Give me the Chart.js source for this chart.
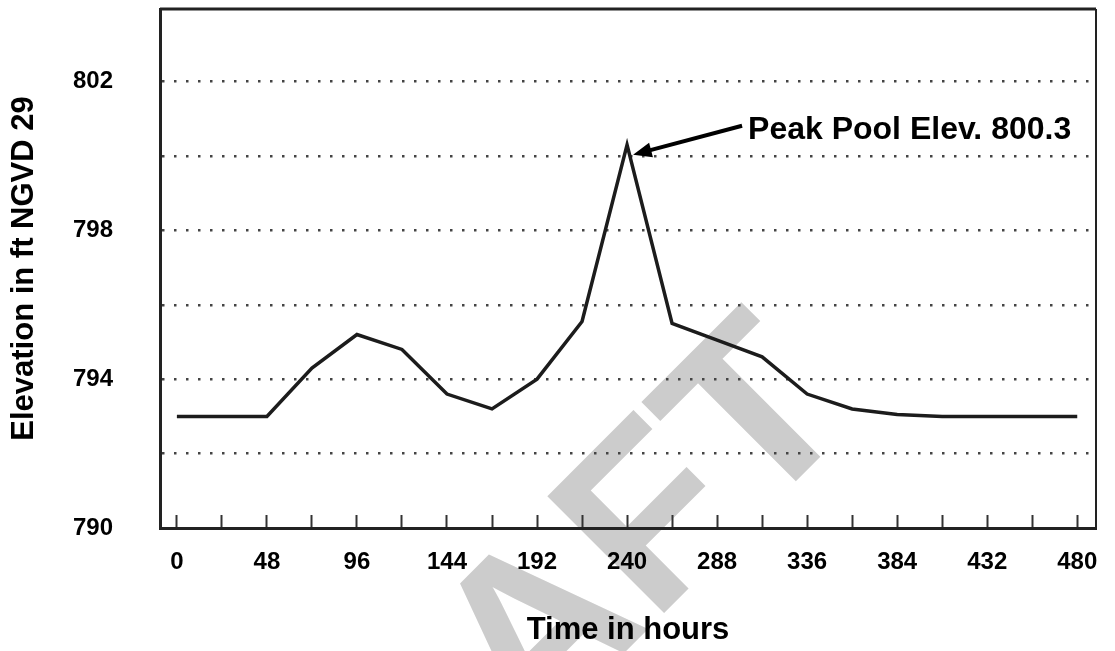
<!DOCTYPE html>
<html>
<head>
<meta charset="utf-8">
<title>Peak Pool Elevation</title>
<script src="https://cdn.jsdelivr.net/npm/chart.js@4.4.1/dist/chart.umd.min.js"></script>
<style>
  html, body { margin: 0; padding: 0; background: #fff; }
  #wrap { width: 1115px; height: 651px; position: relative; }
</style>
</head>
<body>
<div id="wrap"><canvas id="poolChart"></canvas></div>
<script>
// pool hydrograph, values
const hours = [0, 24, 48, 72, 96, 120, 144, 168, 192, 216, 240, 264, 288, 312, 336, 360, 384, 408, 432, 456, 480];
const elevation = [793.0, 793.0, 793.0, 794.3, 795.2, 794.8, 793.6, 793.2, 794.0, 795.55, 800.3, 795.5, 795.05, 794.6, 793.6, 793.2, 793.05, 793.0, 793.0, 793.0, 793.0];

// axis ticks
const xTickHours = [0, 24, 48, 72, 96, 120, 144, 168, 192, 216, 240, 264, 288, 312, 336, 360, 384, 408, 432, 456, 480];
const xLabelHours = [0, 48, 96, 144, 192, 240, 288, 336, 384, 432, 480];
const yGridValues = [790, 792, 794, 796, 798, 800, 802];
const yLabelValues = [790, 794, 798, 802];

const peakHour = 240;
const peakElev = 800.3;
const peakText = 'Peak Pool Elev. 800.3';

const FONT = '"Liberation Sans", Arial, Helvetica, sans-serif';

document.addEventListener('DOMContentLoaded', function () {
    const ctx = document.getElementById('poolChart').getContext('2d');

    // grey DRAFT stamp behind everything
    const watermark = {
        id: 'watermark',
        beforeDraw(chart) {
            const c = chart.ctx;
            c.save();
            c.translate(285, 992);
            c.rotate(-Math.PI / 4);
            c.font = 'bold 240px ' + FONT;
            c.fillStyle = '#cccccc';
            c.textBaseline = 'alphabetic';
            c.fillText('DRAFT', 0, 0);
            c.restore();
        }
    };

    // top and right edges of the plot box
    const frame = {
        id: 'frame',
        afterDraw(chart) {
            const c = chart.ctx;
            const a = chart.chartArea;
            c.save();
            c.strokeStyle = '#222';
            c.lineWidth = 3;
            c.beginPath();
            c.moveTo(a.left, a.top);
            c.lineTo(a.right, a.top);
            c.stroke();
            c.lineWidth = 2;
            c.beginPath();
            c.moveTo(a.right, a.top);
            c.lineTo(a.right, a.bottom);
            c.stroke();
            c.restore();
        }
    };

    // arrow + label pointing at the peak
    const peakNote = {
        id: 'peakNote',
        afterDatasetsDraw(chart) {
            const c = chart.ctx;
            const px = chart.scales.x.getPixelForValue(peakHour);
            const py = chart.scales.y.getPixelForValue(peakElev);
            const tip = { x: px + 6, y: py + 10 };
            const tail = { x: px + 115, y: py - 19 };
            const ang = Math.atan2(tip.y - tail.y, tip.x - tail.x);
            const head = 20;
            c.save();
            c.strokeStyle = '#000';
            c.fillStyle = '#000';
            c.lineWidth = 4;
            c.beginPath();
            c.moveTo(tail.x, tail.y);
            c.lineTo(tip.x - Math.cos(ang) * head * 0.8, tip.y - Math.sin(ang) * head * 0.8);
            c.stroke();
            c.beginPath();
            c.moveTo(tip.x, tip.y);
            c.lineTo(tip.x - head * Math.cos(ang - 0.38), tip.y - head * Math.sin(ang - 0.38));
            c.lineTo(tip.x - head * Math.cos(ang + 0.38), tip.y - head * Math.sin(ang + 0.38));
            c.closePath();
            c.fill();
            c.font = 'bold 32px ' + FONT;
            c.textBaseline = 'middle';
            c.textAlign = 'left';
            c.fillText(peakText, px + 121, py - 15);
            c.restore();
        }
    };

    const data = {
        datasets: [{
            label: 'Pool elevation',
            data: hours.map((h, i) => ({ x: h, y: elevation[i] })),
            borderColor: '#1c1c1c',
            borderWidth: 3.5,
            pointRadius: 0,
            tension: 0,
            fill: false,
        }]
    };

    const config = {
        type: 'line',
        data: data,
        options: {
            responsive: true,
            maintainAspectRatio: false,
            animation: false,
            layout: {
                padding: { top: 9, right: 19, left: 0, bottom: 0 },
            },
            scales: {
                x: {
                    type: 'linear',
                    min: -9,
                    max: 490,
                    afterFit: function (scale) {
                        scale.height = 123;
                        scale.paddingLeft = 0;
                        scale.paddingRight = 0;
                    },
                    afterBuildTicks: function (scale) {
                        scale.ticks = xTickHours.map(v => ({ value: v }));
                    },
                    grid: {
                        drawOnChartArea: false,
                        drawTicks: true,
                        tickLength: -13,
                        tickWidth: 2,
                        tickColor: '#333',
                    },
                    border: {
                        display: true,
                        color: '#222',
                        width: 3,
                    },
                    ticks: {
                        autoSkip: false,
                        maxRotation: 0,
                        padding: 33,
                        color: '#000',
                        font: { family: FONT, size: 24, weight: 'bold' },
                        callback: function (value) {
                            return xLabelHours.includes(value) ? String(value) : '';
                        },
                    },
                    title: {
                        display: true,
                        text: 'Time in hours',
                        color: '#000',
                        font: { family: FONT, size: 31, weight: 'bold' },
                        padding: { top: 0, bottom: 2 },
                    },
                },
                y: {
                    min: 790,
                    max: 803.95,
                    afterFit: function (scale) {
                        scale.width = 160;
                        scale.paddingTop = 0;
                        scale.paddingBottom = 0;
                    },
                    afterBuildTicks: function (scale) {
                        scale.ticks = yGridValues.map(v => ({ value: v }));
                    },
                    grid: {
                        drawTicks: false,
                        color: '#444',
                        lineWidth: 2.5,
                    },
                    border: {
                        display: true,
                        color: '#222',
                        width: 3,
                        dash: [2.5, 9.5],
                    },
                    ticks: {
                        padding: 47,
                        color: '#000',
                        font: { family: FONT, size: 24, weight: 'bold' },
                        callback: function (value) {
                            return yLabelValues.includes(value) ? String(value) : '';
                        },
                    },
                    title: {
                        display: true,
                        text: 'Elevation in ft NGVD 29',
                        color: '#000',
                        font: { family: FONT, size: 31, weight: 'bold' },
                        padding: { top: 6, bottom: 0 },
                    },
                },
            },
            plugins: {
                legend: { display: false },
                tooltip: { enabled: false },
            },
        },
        plugins: [watermark, peakNote, frame],
    };

    new Chart(ctx, config);
});
</script>
</body>
</html>
